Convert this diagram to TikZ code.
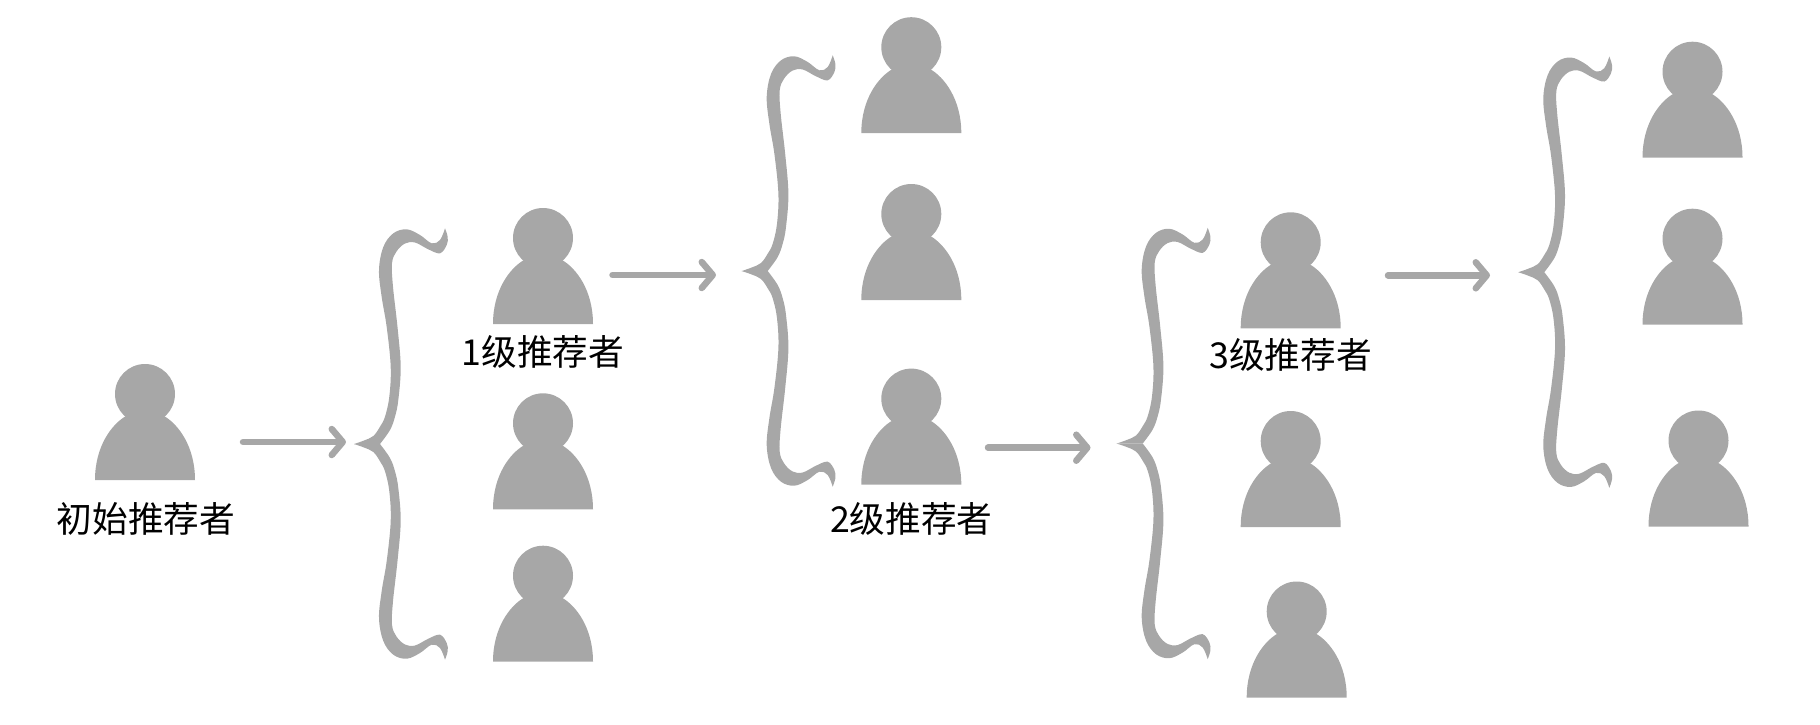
\documentclass[tikz,border=0pt]{standalone}
\usepackage{fontspec}
\setmainfont{Noto Sans CJK SC}
\usetikzlibrary{arrows.meta,calc,positioning}
\definecolor{figgray}{HTML}{A7A7A7}
% one half of the brace, #1 = 1 for the upper half, -1 for the lower one
\newcommand{\bracehalf}[1]{%
	\fill[figgray] plot[smooth,tension=.6] coordinates {(-47,0) (-37,#1*-3.5) (-27.7,#1*-8) (-21,#1*-17.3) (-16,#1*-27.3) (-11.7,#1*-47.3) (-10.3,#1*-77.3) (-14.3,#1*-117) (-19.3,#1*-147) (-22,#1*-174) (-17.7,#1*-197) (-7.7,#1*-210.7) (5.7,#1*-214.7) (19,#1*-209) (30.7,#1*-200.7) (39,#1*-204) (44,#1*-215.7)}
	-- plot[smooth,tension=.6] coordinates {(44,#1*-215.7) (46.7,#1*-207) (45.7,#1*-199) (39,#1*-190.7) (27.3,#1*-194.7) (14,#1*-201.5) (4,#1*-200.5) (-4.5,#1*-192.5) (-9,#1*-180.7) (-8,#1*-157.3) (-3.5,#1*-117) (-0.3,#1*-77.3) (-2.7,#1*-44) (-6,#1*-27.3) (-11,#1*-14) (-21,0)} -- cycle;%
}
\tikzset{%
	person/.style = {rectangle, inner sep=0pt, minimum width=102pt, minimum height=120pt, path picture={
		\begin{scope}[shift={(path picture bounding box.center)}]
			\fill[figgray] (0,-27) circle (30);
			\fill[figgray] (-50,59) .. controls (-50,25) and (-33,3) .. (-19,-5) -- (19,-5) .. controls (33,3) and (50,25) .. (50,59) -- cycle;
		\end{scope}}},
	curly/.style  = {rectangle, inner sep=0pt, minimum width=100pt, minimum height=440pt, path picture={
		\begin{scope}[shift={(path picture bounding box.center)}]
			\bracehalf{1}
			\bracehalf{-1}
		\end{scope}}},
	caption/.style = {inner sep=0pt, font=\fontsize{35.7}{36}\selectfont},
	arrow/.style   = {figgray, line width=6.5pt, line cap=round, -{Straight Barb[length=11pt,width=26pt,round]}},
}
\begin{document}
\begin{tikzpicture}[x=1pt,y=-1pt]
	\useasboundingbox (0,0) rectangle (1820,724);
	% people
	\node [person] (p0) at (145,421) {};
	\node [person] (p1a) at (543,265) {};
	\node [person] (p1b) at (543,450.3) {};
	\node [person] (p1c) at (543,602.7) {};
	\node [person] (p2a) at (911.3,74.2) {};
	\node [person] (p2b) at (911.3,241) {};
	\node [person] (p2c) at (911.3,425.6) {};
	\node [person] (p3a) at (1290.7,269.3) {};
	\node [person] (p3b) at (1290.7,468) {};
	\node [person] (p3c) at (1296.7,638.5) {};
	\node [person] (p4a) at (1692.5,98.7) {};
	\node [person] (p4b) at (1692.5,265.7) {};
	\node [person] (p4c) at (1698.5,467.5) {};
	% braces
	\node [curly] (b1) at (401,444) {};
	\node [curly] (b2) at (788.7,271) {};
	\node [curly] (b3) at (1163.7,443.5) {};
	\node [curly] (b4) at (1565.3,272.2) {};
	% captions
	\node [caption,below=21.5pt of p0,xshift=1pt] (c0) {初始推荐者};
	\node [caption,below=10pt of p1a] (c1) {1级推荐者};
	\node [caption,below=16pt of p2c] (c2) {2级推荐者};
	\node [caption,below=8.5pt of p3a] (c3) {3级推荐者};
	% arrow ends
	\coordinate (s0) at (243,442);
	\coordinate (e0) at (346,442);
	\coordinate (s1) at (612.5,275);
	\coordinate (e1) at (716,275);
	\coordinate (s2) at (988,447.7);
	\coordinate (e2) at (1090.5,447.7);
	\coordinate (s3) at (1388,275.3);
	\coordinate (e3) at (1490,275.3);

	\draw[arrow] (s0) -- (e0);
	\draw[arrow] (s1) -- (e1);
	\draw[arrow] (s2) -- (e2);
	\draw[arrow] (s3) -- (e3);
\end{tikzpicture}
\end{document}
